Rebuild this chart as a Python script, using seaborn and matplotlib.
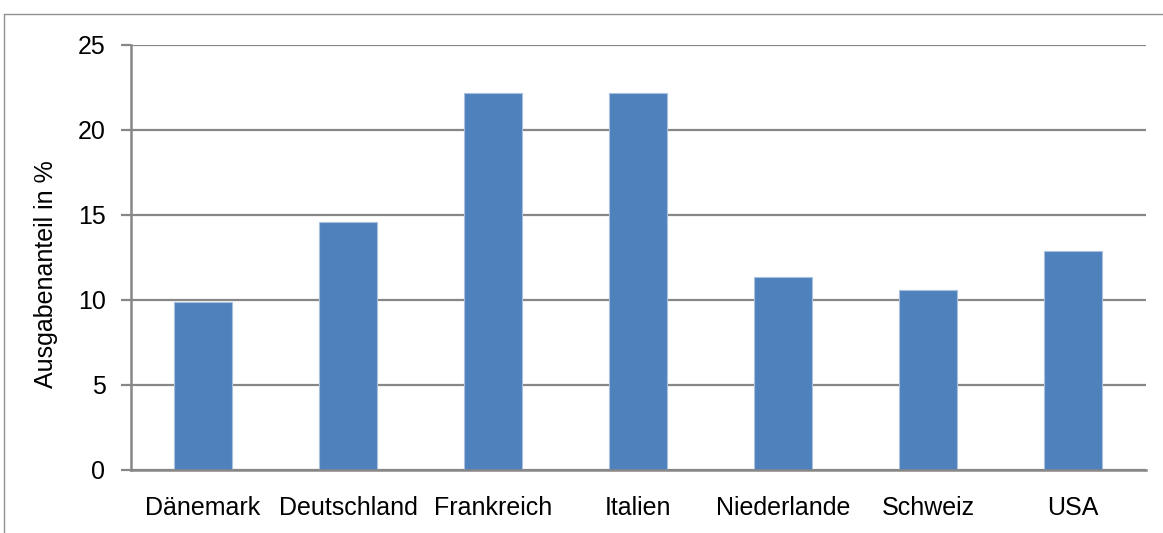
import matplotlib
matplotlib.use("Agg")
import matplotlib.pyplot as plt
from matplotlib.lines import Line2D
import seaborn as sns
import pandas as pd
import numpy as np

# Data: share of spending in percent per country
countries = ["Dänemark", "Deutschland", "Frankreich", "Italien",
             "Niederlande", "Schweiz", "USA"]
shares = [9.85, 14.6, 22.15, 22.15, 11.35, 10.55, 12.85]
y_ticks = [0, 5, 10, 15, 20, 25]
y_label = "Ausgabenanteil in %"

sns.set_theme(style="white")
plt.rcParams["font.family"] = ["Liberation Sans", "DejaVu Sans"]

W, H = 1163, 533
fig = plt.figure(figsize=(W / 100, H / 100), dpi=100)
left, right, top, bottom = 130.5, 1145.5, 44.7, 469.7
ax = fig.add_axes([left / W, (H - bottom) / H, (right - left) / W, (bottom - top) / H])

grid_col = "#878787"
bar_col = "#4F81BD"

df = pd.DataFrame({"Land": countries, "Anteil": shares})
sns.barplot(data=df, x="Land", y="Anteil", ax=ax, color=bar_col, saturation=1,
            width=0.4, edgecolor="#a9c0de", linewidth=0.8, zorder=3)

ax.set_ylim(0, 25)
ax.set_xlim(-0.5, len(countries) - 0.5)
ax.set_yticks(y_ticks)
ax.set_yticklabels([str(v) for v in y_ticks])
ax.yaxis.grid(True, color=grid_col, linewidth=1.6, zorder=0)
ax.xaxis.grid(False)
ax.set_axisbelow(True)

# Category separators as minor ticks on the x axis
ax.set_xticks(np.arange(-0.5, len(countries), 1.0), minor=True)
ax.tick_params(axis="x", which="major", length=0, pad=19, labelsize=18, colors="black")
ax.tick_params(axis="x", which="minor", length=6, width=1.6, color=grid_col, direction="out")
ax.tick_params(axis="y", which="major", length=7, width=1.6, color=grid_col,
               direction="out", pad=11, labelsize=18, labelcolor="black", left=True)

for side in ["top", "right"]:
    ax.spines[side].set_visible(False)
for side in ["left", "bottom"]:
    ax.spines[side].set_color(grid_col)
    ax.spines[side].set_linewidth(1.8)
    ax.spines[side].set_zorder(4)

ax.set_xlabel("")
ax.set_ylabel(y_label, fontsize=18, color="black")
ax.yaxis.set_label_coords(-0.0715, 0.46)

# Chart area border (left and top edges)
fig.add_artist(Line2D([3.5 / W, 3.5 / W], [0, (H - 13.5) / H], transform=fig.transFigure,
                      color="#8f8f8f", linewidth=1.0))
fig.add_artist(Line2D([3.5 / W, 1], [(H - 13.5) / H, (H - 13.5) / H], transform=fig.transFigure,
                      color="#8f8f8f", linewidth=1.0))

fig.savefig("out.png", dpi=100, facecolor="white")
